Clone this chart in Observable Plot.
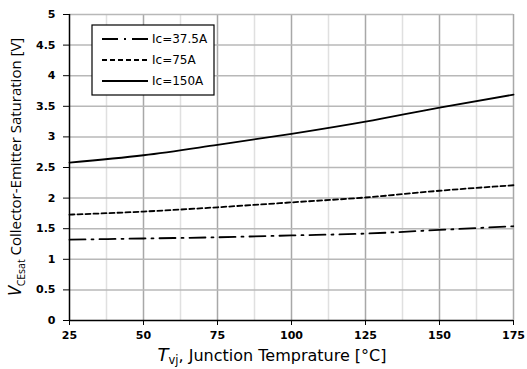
<!DOCTYPE html>
<html>
<head>
<meta charset="utf-8">
<script src="https://cdn.jsdelivr.net/npm/d3@7"></script>
<script src="https://cdn.jsdelivr.net/npm/@observablehq/plot@0.6"></script>
<style>
html,body{margin:0;padding:0;background:#fff;}
#chart svg{display:block;}
</style>
</head>
<body>
<div id="chart"></div>
<script>
const temps = [25, 50, 75, 100, 125, 150, 175];
const vce375 = [1.32, 1.34, 1.36, 1.39, 1.42, 1.48, 1.54];
const vce75 = [1.73, 1.78, 1.85, 1.93, 2.01, 2.12, 2.21];
const vce150 = [2.58, 2.70, 2.87, 3.05, 3.25, 3.48, 3.69];
const seriesNames = ["Ic=37.5A", "Ic=75A", "Ic=150A"];
const xTicks = [25, 50, 75, 100, 125, 150, 175];
const xMinor = [37.5, 62.5, 87.5, 112.5, 137.5, 162.5];
const yTicks = [0, 0.5, 1, 1.5, 2, 2.5, 3, 3.5, 4, 4.5, 5];

const dashes = ["16,6,2,6", "5,3", null];
const allSeries = [vce375, vce75, vce150];
const rows = [];
allSeries.forEach((vals, i) => temps.forEach((t, j) => rows.push({s: seriesNames[i], t, v: vals[j]})));

const font = "'Open Sans', 'DejaVu Sans', sans-serif";
const tickFont = "'DejaVu Sans', sans-serif";
const W = 527, H = 369;
const plot = Plot.plot({
  width: W, height: H,
  marginLeft: 69, marginRight: 14, marginTop: 14, marginBottom: 49,
  style: {fontFamily: tickFont, fontSize: "11px", color: "#000", background: "#fff"},
  x: {domain: [25, 175], label: null},
  y: {domain: [0, 5], label: null},
  marks: [
    Plot.ruleX(xMinor, {stroke: "#e0e0e0", strokeWidth: 1.5}),
    Plot.ruleX(xTicks.slice(1), {stroke: "#a8a8a8", strokeWidth: 1.5}),
    Plot.ruleY(yTicks.slice(1), {stroke: "#b8b8b8", strokeWidth: 1.5}),
    ...seriesNames.map((name, i) => Plot.line(rows.filter(r => r.s === name), {
      x: "t", y: "v", curve: "monotone-x", stroke: "#000", strokeWidth: 1.8,
      strokeDasharray: dashes[i]
    })),
    Plot.axisX({ticks: xTicks, tickSize: 5, tickPadding: 6, fontWeight: "bold", tickFormat: d => String(d), label: null}),
    Plot.axisY({ticks: yTicks, tickSize: 6, tickPadding: 8, fontWeight: "bold", tickFormat: d => String(d), label: null}),
    Plot.ruleX([25], {stroke: "#000", strokeWidth: 1.5}),
    Plot.ruleY([0], {stroke: "#000", strokeWidth: 1.5})
  ]
});
document.getElementById("chart").appendChild(plot);

const svg = d3.select(plot);
// axis titles
const yl = svg.append("text")
  .attr("transform", "translate(21,167) rotate(-90)")
  .attr("text-anchor", "middle")
  .style("font-family", font).style("font-size", "15px").attr("fill", "#000");
yl.append("tspan").style("font-style", "italic").style("font-size", "18px").text("V");
yl.append("tspan").attr("dy", 4).style("font-size", "10.5px").text("CEsat");
yl.append("tspan").attr("dy", -4).text(" Collector-Emitter Saturation [V]");

const xl = svg.append("text")
  .attr("x", 272).attr("y", 361)
  .attr("text-anchor", "middle")
  .style("font-family", tickFont).style("font-size", "16px").attr("fill", "#000");
xl.append("tspan").style("font-style", "italic").style("font-size", "18px").text("T");
xl.append("tspan").attr("dy", 3).style("font-size", "11.5px").text("vj");
xl.append("tspan").attr("dy", -3).text(", Junction Temprature [°C]");

// legend
const lg = svg.append("g");
lg.append("rect").attr("x", 92).attr("y", 25).attr("width", 122).attr("height", 70)
  .attr("fill", "#fff").attr("stroke", "#000").attr("stroke-width", 1.2);
const legY = [39, 60, 81];
seriesNames.forEach((name, i) => {
  lg.append("line").attr("x1", 102).attr("x2", 148).attr("y1", legY[i]).attr("y2", legY[i])
    .attr("stroke", "#000").attr("stroke-width", 1.8)
    .attr("stroke-dasharray", dashes[i] || null);
  lg.append("text").attr("x", 152).attr("y", legY[i]).attr("dy", "0.35em")
    .attr("text-anchor", "start")
    .style("font-family", tickFont).style("font-size", "12px").attr("fill", "#000").text(name);
});
</script>
</body>
</html>
